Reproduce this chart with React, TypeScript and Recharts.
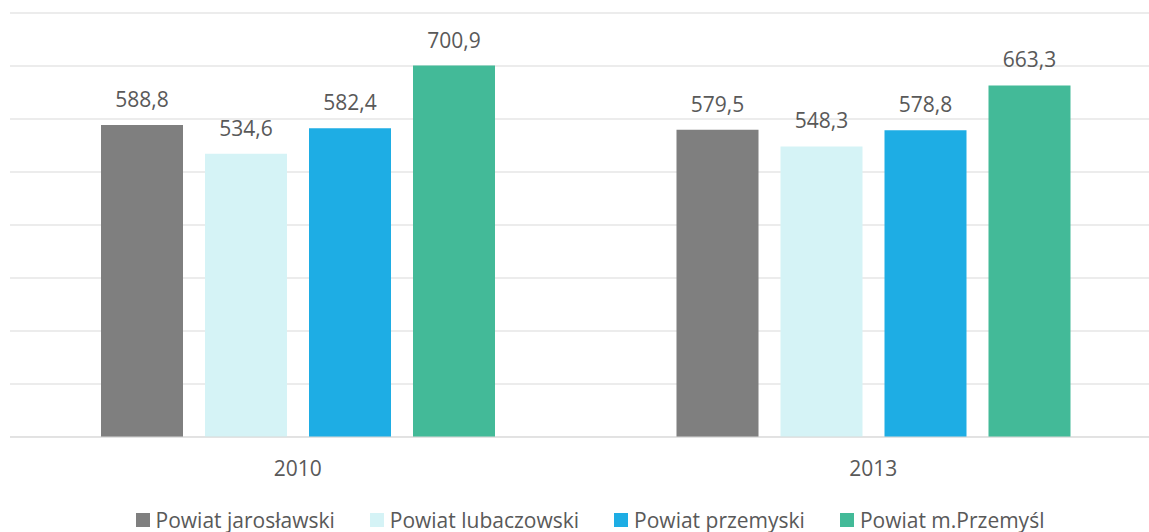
import React from 'react';
import {
  BarChart,
  Bar,
  XAxis,
  YAxis,
  CartesianGrid,
  Legend,
  LabelList,
} from 'recharts';

const years = ['2010', '2013'];
const jaroslawski = [588.8, 579.5];
const lubaczowski = [534.6, 548.3];
const przemyski = [582.4, 578.8];
const mPrzemysl = [700.9, 663.3];
const yTicks = [0, 100, 200, 300, 400, 500, 600, 700, 800];

const seriesList = [
  { key: 'jaroslawski', name: 'Powiat jarosławski', color: '#7f7f7f' },
  { key: 'lubaczowski', name: 'Powiat lubaczowski', color: '#d5f3f6' },
  { key: 'przemyski', name: 'Powiat przemyski', color: '#1eade4' },
  { key: 'mPrzemysl', name: 'Powiat m.Przemyśl', color: '#43ba98' },
];

const data = years.map((year, i) => ({
  year,
  jaroslawski: jaroslawski[i],
  lubaczowski: lubaczowski[i],
  przemyski: przemyski[i],
  mPrzemysl: mPrzemysl[i],
}));

const FONT = '"Open Sans", "Noto Sans", sans-serif';
const TEXT_COLOR = '#595959';

const formatValue = (v: number) => v.toFixed(1).replace('.', ',');

// keep series order (recharts sorts the payload by name)
function ChartLegend(): JSX.Element {
  return (
    <div
      style={{
        display: 'flex',
        justifyContent: 'center',
        gap: 35,
        height: 26,
        paddingTop: 1,
        paddingLeft: 9,
        boxSizing: 'border-box',
        fontFamily: FONT,
        fontSize: 21,
        color: TEXT_COLOR,
      }}
    >
      {seriesList.map((s) => (
        <div
          key={s.key}
          style={{ display: 'flex', alignItems: 'center', lineHeight: '22px' }}
        >
          <span
            style={{
              width: 14,
              height: 14,
              background: s.color,
              marginRight: 6,
              display: 'inline-block',
            }}
          />
          <span style={{ whiteSpace: 'nowrap' }}>{s.name}</span>
        </div>
      ))}
    </div>
  );
}

export default function App(): JSX.Element {
  return (
    <div
      style={{
        position: 'absolute',
        left: 0,
        top: 0,
        width: 1149,
        height: 532,
        overflow: 'hidden',
        background: '#fff',
      }}
    >
      <BarChart
        width={1172}
        height={532}
        data={data}
        margin={{ top: 13, right: 11, bottom: 0, left: 10 }}
        barSize={82}
        barGap={22}
      >
        <CartesianGrid vertical={false} stroke="#d9d9d9" strokeWidth={1} />
        <XAxis
          dataKey="year"
          height={69}
          tickSize={0}
          tickMargin={24}
          axisLine={{ stroke: '#d9d9d9' }}
          tickLine={false}
          tick={{ fill: TEXT_COLOR, fontSize: 21, fontFamily: FONT }}
        />
        <YAxis hide domain={[0, 800]} ticks={yTicks} />
        <Legend verticalAlign="bottom" content={<ChartLegend />} />
        {seriesList.map((s) => (
          <Bar
            key={s.key}
            dataKey={s.key}
            name={s.name}
            fill={s.color}
            isAnimationActive={false}
          >
            <LabelList
              dataKey={s.key}
              position="top"
              offset={18}
              formatter={(v: any) => formatValue(Number(v))}
              style={{ fill: TEXT_COLOR, fontSize: 21, fontFamily: FONT }}
            />
          </Bar>
        ))}
      </BarChart>
    </div>
  );
}
